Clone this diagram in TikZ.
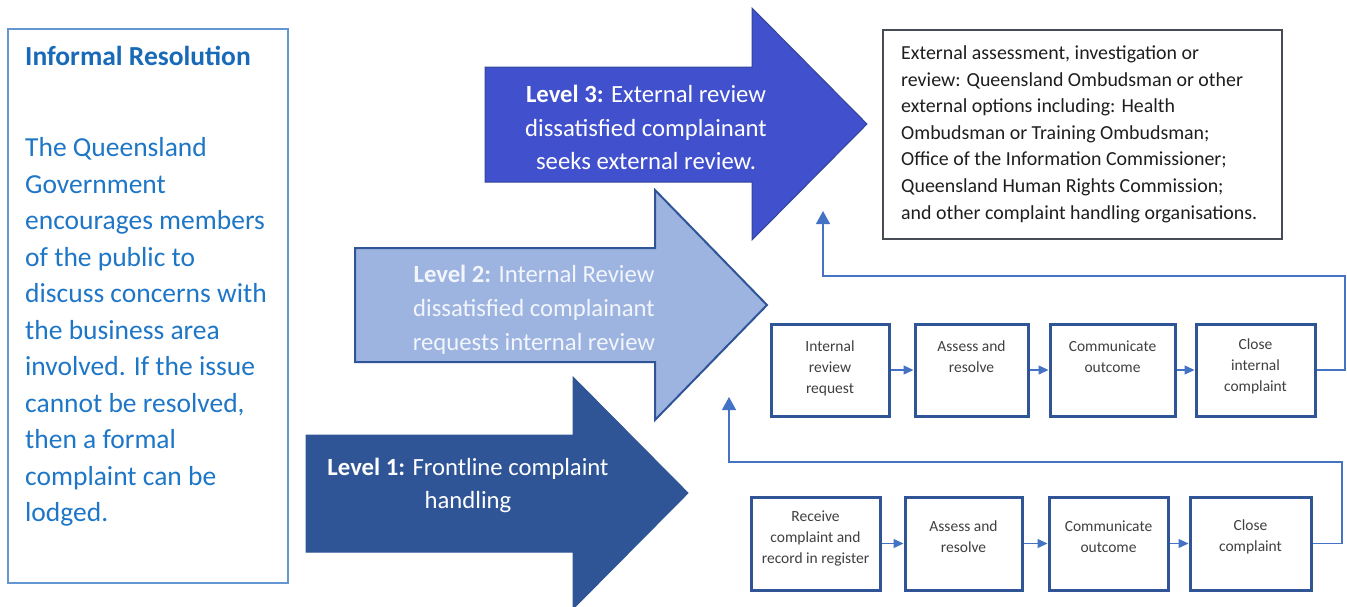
\documentclass[tikz,border=0pt]{standalone}
\usepackage{fontspec}
\setmainfont{Carlito}
\usetikzlibrary{arrows.meta}
\definecolor{lbBorder}{RGB}{100,150,210}
\definecolor{lbText}{RGB}{30,118,198}
\definecolor{lbTitle}{RGB}{25,105,185}
\definecolor{lvlOne}{RGB}{47,85,151}
\definecolor{lvlTwo}{RGB}{157,180,224}
\definecolor{lvlTwoText}{RGB}{242,245,251}
\definecolor{lvlThree}{RGB}{65,80,205}
\definecolor{lvlThreeBorder}{RGB}{50,70,150}
\definecolor{extBorder}{RGB}{70,75,85}
\definecolor{extText}{RGB}{30,30,30}
\definecolor{boxBorder}{RGB}{47,85,151}
\definecolor{boxText}{RGB}{64,64,64}
\definecolor{conn}{RGB}{68,114,196}
\tikzset{
  stepbox/.style={draw=boxBorder, line width=3pt, fill=white, inner sep=0pt, minimum height=92pt},
  boxtext/.style={text=boxText, align=center, font=\fontsize{15.5}{21}\selectfont, inner sep=0pt},
  flow/.style={draw=conn, line width=1.3pt, -{Triangle[length=10pt,width=9pt]}},
  back/.style={draw=conn, line width=1.3pt, -{Triangle[length=13pt,width=14pt]}},
  lvltext/.style={align=center, font=\fontsize{24.7}{33.7}\selectfont, inner sep=0pt},
}
\begin{document}
\begin{tikzpicture}[x=1pt,y=-1pt]
\useasboundingbox (0,0) rectangle (1347,606);
\clip (0,0) rectangle (1347,606);

% Informal resolution box
\node[draw=lbBorder, line width=1.4pt, minimum width=280pt, minimum height=554pt, inner sep=0pt] (infobox) at (148,306) {};
\node[anchor=west, text=lbTitle, font=\bfseries\fontsize{27.5}{33}\selectfont, inner sep=0pt] (inftitle) at (25,56) {Informal Resolution};
\node[anchor=west, text=lbText, align=left, font=\fontsize{27.5}{36.5}\selectfont, inner sep=0pt] (infbody) at (25,332)
  {The Queensland\\Government\\encourages members\\of the public to\\discuss concerns with\\the business area\\involved. If the issue\\cannot be resolved,\\then a formal\\complaint can be\\lodged.};

% Level arrows
\filldraw[fill=lvlThree, draw=lvlThreeBorder, line width=1pt]
  (485,67) -- (752,67) -- (752,8) -- (867,124) -- (752,240) -- (752,182) -- (485,182) -- cycle;
\filldraw[fill=lvlTwo, draw=lvlOne, line width=2pt]
  (355,248) -- (655,248) -- (655,190) -- (767,305) -- (655,420) -- (655,362) -- (355,362) -- cycle;
\filldraw[fill=lvlOne, draw=lvlOne, line width=1pt]
  (306,435) -- (573,435) -- (573,377) -- (688,493) -- (573,609) -- (573,552) -- (306,552) -- cycle;

\node[lvltext, text=white] (lvl3) at (646,127.5) {\textbf{Level 3:} External review\\dissatisfied complainant\\seeks external review.};
\node[lvltext, text=lvlTwoText] (lvl2) at (534,310) {\textbf{Level 2:} Internal Review\\dissatisfied complainant\\requests internal review};
\node[lvltext, text=white] (lvl1) at (468,485.5) {\textbf{Level 1:} Frontline complaint\\handling};

% External box
\node[draw=extBorder, line width=1.2pt, minimum width=399pt, minimum height=209pt, inner sep=0pt] (extbox) at (1082.5,134.5) {};
\node[anchor=west, text=extText, align=left, font=\fontsize{19.9}{26.6}\selectfont, inner sep=0pt] (exttext) at (901,134)
  {External assessment, investigation or\\review: Queensland Ombudsman or other\\external options including: Health\\Ombudsman or Training Ombudsman;\\Office of the Information Commissioner;\\Queensland Human Rights Commission;\\and other complaint handling organisations.};

% Internal review row
\node[stepbox, minimum width=118pt] (b1) at (830,370) {};
\node[stepbox, minimum width=113pt] (b2) at (971.5,370) {};
\node[stepbox, minimum width=125pt] (b3) at (1112.5,370) {};
\node[stepbox, minimum width=119pt] (b4) at (1255.5,370) {};
\node[boxtext] (tb1) at (830,368) {Internal\\review\\request};
\node[boxtext] (tb2) at (971.5,357) {Assess and\\resolve};
\node[boxtext] (tb3) at (1112.5,357) {Communicate\\outcome};
\node[boxtext] (tb4) at (1255.5,366.5) {Close\\internal\\complaint};

% Frontline row
\node[stepbox, minimum width=129pt, minimum height=93pt] (c1) at (815.5,543.5) {};
\node[stepbox, minimum width=117pt, minimum height=93pt] (c2) at (963.5,543.5) {};
\node[stepbox, minimum width=119pt, minimum height=93pt] (c3) at (1108.5,543.5) {};
\node[stepbox, minimum width=121pt, minimum height=93pt] (c4) at (1250.5,543.5) {};
\node[boxtext] (tc1) at (815.5,538) {Receive\\complaint and\\record in register};
\node[boxtext] (tc2) at (963.5,536.5) {Assess and\\resolve};
\node[boxtext] (tc3) at (1108.5,537) {Communicate\\outcome};
\node[boxtext] (tc4) at (1250.5,537) {Close\\complaint};

% Flow connectors
\draw[flow] (b1) -- (b2);
\draw[flow] (b2) -- (b3);
\draw[flow] (b3) -- (b4);
\draw[flow] (c1) -- (c2);
\draw[flow] (c2) -- (c3);
\draw[flow] (c3) -- (c4);

% Feedback connectors
\coordinate (r1) at (1345,276);
\coordinate (up1) at (823,211);
\coordinate (r2) at (1342,462);
\coordinate (up2) at (729,397);
\draw[back] (b4.east) -| (r1) -| (up1);
\draw[back] (c4.east) -| (r2) -| (up2);
\end{tikzpicture}
\end{document}
